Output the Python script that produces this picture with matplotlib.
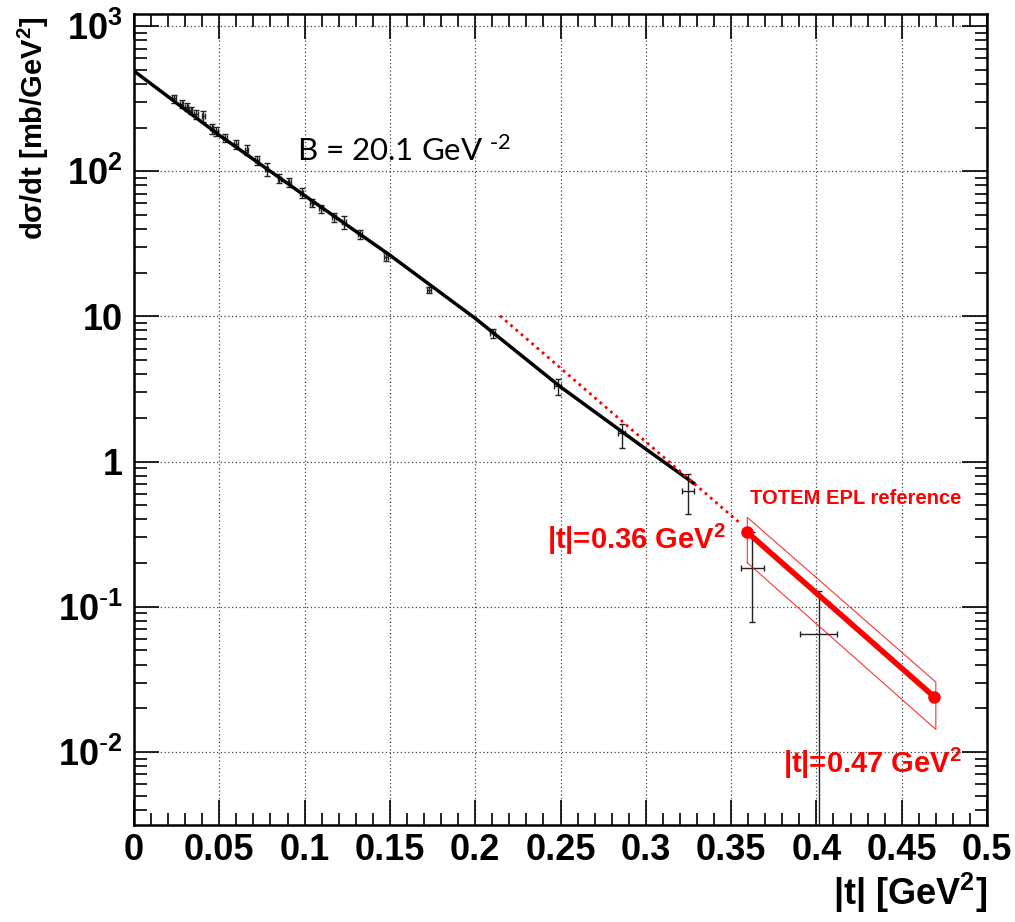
import matplotlib
matplotlib.use('Agg')
import matplotlib.pyplot as plt
from matplotlib.ticker import MultipleLocator, LogLocator, NullFormatter

# measured points |t| [GeV^2], dsigma/dt [mb/GeV^2]
t_data = [0.0234, 0.0280, 0.0309, 0.0332, 0.0363, 0.0406, 0.0455, 0.0480,
          0.0533, 0.0598, 0.0660, 0.0720, 0.0778, 0.0852, 0.0910, 0.0983,
          0.1042, 0.1096, 0.1172, 0.1231, 0.1325, 0.1477, 0.173, 0.2103,
          0.2483, 0.2858, 0.3245, 0.3625, 0.4013]
ds_data = [317, 292, 277, 263, 247, 239, 197, 189, 170, 153, 140, 119, 103,
           89, 84, 71, 60.6, 55.4, 48, 44.8, 36.8, 25.7, 15.3, 7.63,
           3.31, 1.58, 0.626, 0.186, 0.065]
err_lo = [20, 18, 16, 16, 18, 20, 16, 14, 11, 11, 11, 9, 11, 6, 6, 6,
          3.5, 3.5, 3.5, 4.5, 2.8, 1.8, 0.7, 0.5,
          0.44, 0.33, 0.19, 0.107, 0.06499]
err_hi = [20, 18, 16, 16, 18, 20, 16, 14, 11, 11, 11, 9, 11, 6, 6, 6,
          3.5, 3.5, 3.5, 4.5, 2.8, 1.8, 0.7, 0.5,
          0.37, 0.23, 0.19, 0.14, 0.064]
t_err = [0.001] * 22 + [0.0012, 0.0015, 0.002, 0.002, 0.0035, 0.0065, 0.011]

# exponential fit curve
t_fit = [0.0, 0.05, 0.1, 0.15, 0.2, 0.25, 0.3, 0.328]
ds_fit = [490, 177, 68, 26.4, 9.7, 3.27, 1.22, 0.71]

# extrapolation (dotted)
t_extrap = [0.2145, 0.356]
ds_extrap = [10.1, 0.37]

# TOTEM EPL reference
t_epl = [0.3595, 0.469]
ds_epl = [0.326, 0.024]
t_band = [0.3595, 0.3595, 0.47, 0.47, 0.3595]
ds_band = [0.201, 0.413, 0.0303, 0.0143, 0.201]

x_ticks = [0, 0.05, 0.1, 0.15, 0.2, 0.25, 0.3, 0.35, 0.4, 0.45, 0.5]
x_labels = ['0', '0.05', '0.1', '0.15', '0.2', '0.25', '0.3', '0.35', '0.4', '0.45', '0.5']
y_ticks = [1e-2, 1e-1, 1, 10, 1e2, 1e3]
y_labels = [r'$\mathregular{10^{\text{-}2}}$', r'$\mathregular{10^{\text{-}1}}$', '1', '10',
            r'$\mathregular{10^{2}}$', r'$\mathregular{10^{3}}$']

W, H = 1015, 922
fig = plt.figure(figsize=(W / 100, H / 100), dpi=100)
ax = fig.add_axes([134 / W, 1 - 825 / H, 853 / W, 811 / H])

bold = dict(family='Liberation Sans', fontweight='bold')

ax.errorbar(t_data, ds_data, yerr=[err_lo, err_hi], xerr=t_err, fmt='none',
            ecolor='#222222', elinewidth=1, capsize=2.5, capthick=1, zorder=3)
ax.plot(t_fit, ds_fit, color='black', lw=2.5, zorder=4)
ax.plot(t_extrap, ds_extrap, color='red', lw=2, ls=(0, (1, 1.5)), zorder=4)
ax.plot(t_band, ds_band, color='red', lw=0.8, alpha=0.8, zorder=4)
ax.plot(t_epl, ds_epl, color='red', lw=4, marker='o', ms=8, zorder=5)

ax.set_yscale('log')
ax.set_xlim(0, 0.5)
ax.set_ylim(3.14e-3, 1.21e3)

ax.set_xticks(x_ticks)
ax.set_xticklabels(x_labels, **bold, fontsize=26)
ax.xaxis.set_minor_locator(MultipleLocator(0.01))
ax.set_yticks(y_ticks)
ax.set_yticklabels(y_labels, **bold, fontsize=26)
ax.yaxis.set_minor_locator(LogLocator(base=10, subs=range(2, 10), numticks=20))
ax.yaxis.set_minor_formatter(NullFormatter())

ax.tick_params(which='both', direction='in', top=True, right=True, width=1.2)
ax.tick_params(which='major', length=18)
ax.tick_params(which='minor', length=9)
ax.tick_params(axis='x', pad=6)
ax.tick_params(axis='y', pad=8)
for s in ax.spines.values():
    s.set_linewidth(1.8)

ax.grid(True, which='major', color='#444444', lw=0.9, ls=(0, (1, 2)))

fig.text(33 / W, 1 - 128 / H, r'dσ/dt [mb/GeV$\mathregular{^2}$]',
         rotation=90, ha='center', va='center', fontsize=21, **bold)
fig.text(987 / W, 1 - 905 / H, r'|t| [GeV$\mathregular{^2}$]', ha='right',
         va='baseline', fontsize=26, **bold)

fig.text(297 / W, 1 - 161 / H, r'B = 20.1 GeV $\mathregular{^{\text{-}2}}$', family='Lato',
         fontsize=22.5, va='baseline')
fig.text(750 / W, 1 - 504 / H, 'TOTEM EPL reference', color='red', fontsize=14.5,
         va='baseline', **bold)
fig.text(726 / W, 1 - 549 / H, r'|t|=0.36 GeV$\mathregular{^2}$', color='red',
         fontsize=21, ha='right', va='baseline', **bold)
fig.text(783 / W, 1 - 773 / H, r'|t|=0.47 GeV$\mathregular{^2}$', color='red',
         fontsize=21, va='baseline', **bold)

fig.savefig('out.png', dpi=100)
